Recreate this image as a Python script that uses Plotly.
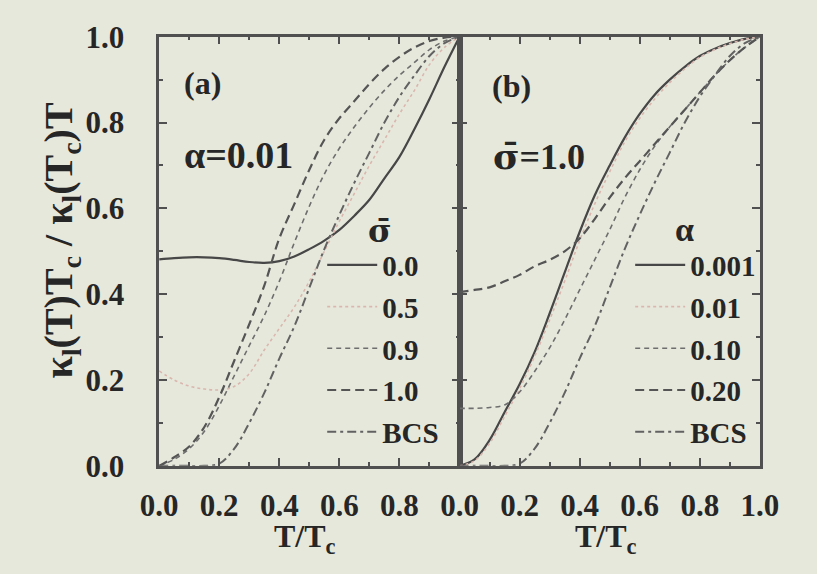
import plotly.graph_objects as go

# ---------------- data ----------------
T = [0.0, 0.05, 0.10, 0.15, 0.20, 0.25, 0.30, 0.35, 0.40, 0.45, 0.50,
     0.55, 0.60, 0.65, 0.70, 0.75, 0.80, 0.85, 0.90, 0.95, 1.0]

# panel (a): alpha = 0.01, various sigma-bar
a_sig00 = [0.481, 0.484, 0.486, 0.486, 0.484, 0.480, 0.475, 0.473, 0.477, 0.488, 0.505,
           0.525, 0.550, 0.583, 0.620, 0.670, 0.720, 0.785, 0.855, 0.930, 1.0]
a_sig05 = [0.221, 0.200, 0.186, 0.179, 0.177, 0.185, 0.215, 0.270, 0.320, 0.370, 0.430,
           0.500, 0.570, 0.635, 0.700, 0.760, 0.820, 0.875, 0.935, 0.975, 1.0]
a_sig09 = [0.0, 0.015, 0.040, 0.080, 0.140, 0.210, 0.280, 0.350, 0.430, 0.520, 0.605,
           0.680, 0.740, 0.790, 0.835, 0.875, 0.910, 0.940, 0.970, 0.990, 1.0]
a_sig10 = [0.0, 0.020, 0.045, 0.090, 0.160, 0.245, 0.330, 0.420, 0.530, 0.610, 0.690,
           0.760, 0.810, 0.850, 0.890, 0.925, 0.953, 0.975, 0.990, 0.998, 1.0]
bcs = [0.0, 0.0, 0.0, 0.0, 0.005, 0.040, 0.100, 0.170, 0.250, 0.325, 0.415,
       0.505, 0.585, 0.660, 0.730, 0.800, 0.860, 0.910, 0.955, 0.985, 1.0]

# panel (b): sigma-bar = 1.0, various alpha
b_a0001 = [0.0, 0.015, 0.060, 0.125, 0.190, 0.265, 0.355, 0.450, 0.545, 0.630, 0.700,
           0.765, 0.820, 0.865, 0.900, 0.930, 0.955, 0.972, 0.985, 0.995, 1.0]
b_a001 = [0.0, 0.012, 0.052, 0.115, 0.180, 0.255, 0.340, 0.430, 0.525, 0.610, 0.685,
          0.755, 0.810, 0.855, 0.893, 0.925, 0.952, 0.970, 0.984, 0.994, 1.0]
b_a010 = [0.134, 0.134, 0.136, 0.142, 0.172, 0.220, 0.275, 0.340, 0.410, 0.480, 0.550,
          0.625, 0.690, 0.745, 0.790, 0.830, 0.870, 0.910, 0.945, 0.975, 1.0]
b_a020 = [0.405, 0.410, 0.416, 0.430, 0.445, 0.465, 0.480, 0.500, 0.530, 0.575, 0.625,
          0.670, 0.710, 0.750, 0.790, 0.830, 0.870, 0.910, 0.945, 0.975, 1.0]

labels_a = ["0.0", "0.5", "0.9", "1.0", "BCS"]
labels_b = ["0.001", "0.01", "0.10", "0.20", "BCS"]
xticks_a = [0.0, 0.2, 0.4, 0.6, 0.8]
xticks_b = [0.0, 0.2, 0.4, 0.6, 0.8, 1.0]
yticks = [0.0, 0.2, 0.4, 0.6, 0.8, 1.0]

# ---------------- styles ----------------
FONT = "Liberation Serif"
SIGMA = "<span style=\"font-family:'DejaVu Serif'\">σ̄</span>"
TXT = "#262626"
BG = "#e7e8dc"
AX = "#505050"
styles = [
    dict(color="#474747", width=2.2, dash="solid"),
    dict(color="#d9b7ae", width=1.6, dash="dot"),
    dict(color="#6e6e6e", width=1.6, dash="5px,4px"),
    dict(color="#555555", width=2.2, dash="9px,5px"),
    dict(color="#626262", width=2.0, dash="9px,4px,3px,4px"),
]

fig = go.Figure()
series_a = [a_sig00, a_sig05, a_sig09, a_sig10, bcs]
series_b = [b_a0001, b_a001, b_a010, b_a020, bcs]
for i, (ys, lab) in enumerate(zip(series_a, labels_a)):
    fig.add_trace(go.Scatter(x=T, y=ys, mode="lines", name=lab, line=styles[i],
                             line_shape="spline", xaxis="x", yaxis="y",
                             legend="legend", legendgroup="a%d" % i))
for i, (ys, lab) in enumerate(zip(series_b, labels_b)):
    fig.add_trace(go.Scatter(x=T, y=ys, mode="lines", name=lab, line=styles[i],
                             line_shape="spline", xaxis="x2", yaxis="y2",
                             legend="legend2", legendgroup="b%d" % i))

W, H = 817, 574
x0a, x1a, x1b = 147 / W, 462 / W, 777 / W
yb, yt = 1 - 478 / H, 1 - 21 / H

tickfont = dict(family=FONT, size=31, color=TXT, weight="bold")
common_x = dict(range=[0, 1], showgrid=False, zeroline=False, showline=True,
                linecolor=AX, linewidth=2.5, mirror="allticks", ticks="inside",
                ticklen=8, tickwidth=2, tickcolor=AX, tickfont=tickfont,
                ticklabelstandoff=10,
                minor=dict(dtick=0.1, ticks="inside", ticklen=4, tickwidth=1.5, tickcolor=AX))
common_y = dict(range=[0, 1], showgrid=False, zeroline=False, showline=True,
                linecolor=AX, linewidth=2.5, mirror="allticks", ticks="inside",
                ticklen=8, tickwidth=2, tickcolor=AX, tickfont=tickfont,
                ticklabelstandoff=26,
                tickvals=yticks, ticktext=["%.1f" % v for v in yticks],
                minor=dict(dtick=0.1, ticks="inside", ticklen=4, tickwidth=1.5, tickcolor=AX))

legfont = dict(family=FONT, size=29, color=TXT, weight="bold")
fig.update_layout(
    width=W, height=H,
    margin=dict(l=0, r=0, t=0, b=0),
    paper_bgcolor=BG, plot_bgcolor=BG,
    font=dict(family=FONT),
    xaxis=dict(common_x, domain=[x0a, x1a], anchor="y",
               tickvals=xticks_a, ticktext=["%.1f" % v for v in xticks_a]),
    yaxis=dict(common_y, domain=[yb, yt], anchor="x"),
    xaxis2=dict(common_x, domain=[x1a, x1b], anchor="y2",
                tickvals=xticks_b, ticktext=["%.1f" % v for v in xticks_b]),
    yaxis2=dict(common_y, domain=[yb, yt], anchor="x2", showticklabels=False),
    legend=dict(x=318 / W, y=1 - 237 / H, xanchor="left", yanchor="top",
                bgcolor="rgba(0,0,0,0)", traceorder="grouped", tracegroupgap=1,
                font=legfont, itemwidth=50),
    legend2=dict(x=641 / W, y=1 - 237 / H, xanchor="left", yanchor="top",
                 bgcolor="rgba(0,0,0,0)", traceorder="grouped", tracegroupgap=1,
                 font=legfont, itemwidth=50),
    showlegend=True,
)

def ann(text, x, y, size, angle=0, bold=True):
    fig.add_annotation(text=("<b>%s</b>" % text) if bold else text,
                       x=x / W, y=1 - y / H, xref="paper", yref="paper",
                       xanchor="center", yanchor="middle", showarrow=False,
                       textangle=angle,
                       font=dict(family=FONT, size=size, color=TXT))

ann("(a)", 192, 70, 32)
ann("α=0.01", 230, 147, 38)
ann("(b)", 516, 74, 32)
ann(SIGMA + "=1.0", 545, 148, 36)
ann(SIGMA, 379, 228, 32)
ann("α", 698, 226, 34)
ann("T/T<sub>c</sub>", 300, 555, 32)
ann("T/T<sub>c</sub>", 616, 555, 32)
ann("κ<sub>l</sub>(T)T<sub>c</sub> / κ<sub>l</sub>(T<sub>c</sub>)T", 45, 238, 40, angle=-90)

fig.write_html("out.html")
